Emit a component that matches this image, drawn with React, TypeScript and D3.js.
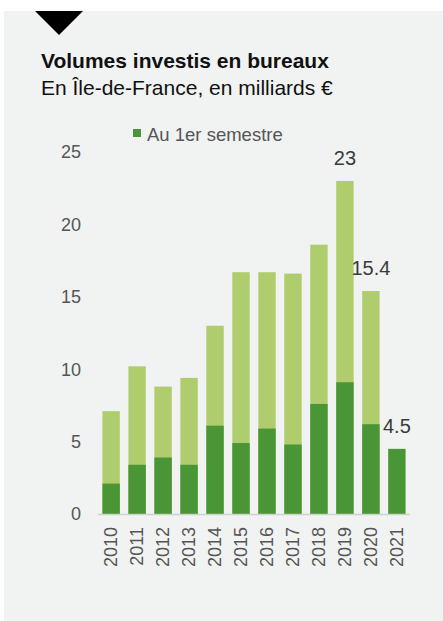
import React from "react";
import * as d3 from "d3";

// Volumes investis en bureaux, Île-de-France (milliards €)
const years = ["2010", "2011", "2012", "2013", "2014", "2015", "2016", "2017", "2018", "2019", "2020", "2021"];
const fullYear = [7.1, 10.2, 8.8, 9.4, 13.0, 16.7, 16.7, 16.6, 18.6, 23.0, 15.4, null];
const firstHalf = [2.1, 3.4, 3.9, 3.4, 6.1, 4.9, 5.9, 4.8, 7.6, 9.1, 6.2, 4.5];
const yTicks = [0, 5, 10, 15, 20, 25];
const valueLabels = [
  { year: "2019", text: "23" },
  { year: "2020", text: "15.4" },
  { year: "2021", text: "4.5" },
];

const W = 443;
const H = 621;
const LIGHT = "#b0cd6e";
const DARK = "#4a9535";
const FONT = "'Liberation Sans', Arial, sans-serif";

export default function App() {
  const x = d3.scaleBand<string>().domain(years).range([98, 410]).paddingInner(0.33).paddingOuter(0.17);
  const y = d3.scaleLinear().domain([0, 25]).range([514, 152]);

  // top of the visible stack for a year (full year if known, else first half)
  const topOf = (i: number) => y(fullYear[i] ?? firstHalf[i]);

  return (
    <div style={{ position: "fixed", left: 0, top: 0 }}>
      <svg width={W} height={H} style={{ display: "block", fontFamily: FONT }}>
        <rect x={4} y={11} width={W - 4} height={H - 11} fill="#f0f3f2" />
        <path d="M35,11 L83,11 L59,35 Z" fill="#000" />

        <text x={41} y={68} fontSize={21} fontWeight="bold" fill="#111">
          Volumes investis en bureaux
        </text>
        <text x={41} y={95} fontSize={21} fill="#111">
          En Île-de-France, en milliards €
        </text>

        <rect x={133} y={129} width={8} height={8} fill={DARK} />
        <text x={147} y={141} fontSize={18.5} fill="#555">
          Au 1er semestre
        </text>

        {yTicks.map((t) => (
          <text key={t} x={81} y={y(t)} dy="0.35em" textAnchor="end" fontSize={18} fill="#555">
            {t}
          </text>
        ))}

        {years.map((yr, i) => (
          <g key={yr}>
            {fullYear[i] != null && (
              <rect
                x={x(yr)}
                y={y(fullYear[i] as number)}
                width={x.bandwidth()}
                height={y(0) - y(fullYear[i] as number)}
                fill={LIGHT}
              />
            )}
            <rect
              x={x(yr)}
              y={y(firstHalf[i])}
              width={x.bandwidth()}
              height={y(0) - y(firstHalf[i])}
              fill={DARK}
            />
          </g>
        ))}

        <line x1={98} x2={410} y1={y(0) + 0.5} y2={y(0) + 0.5} stroke="#d0d0d0" strokeWidth={1.5} />

        {years.map((yr) => {
          const cx = (x(yr) as number) + x.bandwidth() / 2;
          return (
            <text
              key={yr}
              transform={`translate(${cx},527) rotate(-90)`}
              textAnchor="end"
              dy="0.35em"
              fontSize={18}
              fill="#555"
            >
              {yr}
            </text>
          );
        })}

        {valueLabels.map((l) => {
          const i = years.indexOf(l.year);
          const cx = (x(l.year) as number) + x.bandwidth() / 2;
          return (
            <text key={l.year} x={cx} y={topOf(i) - 16} textAnchor="middle" fontSize={20} fill="#3a3a3a">
              {l.text}
            </text>
          );
        })}
      </svg>
    </div>
  );
}
